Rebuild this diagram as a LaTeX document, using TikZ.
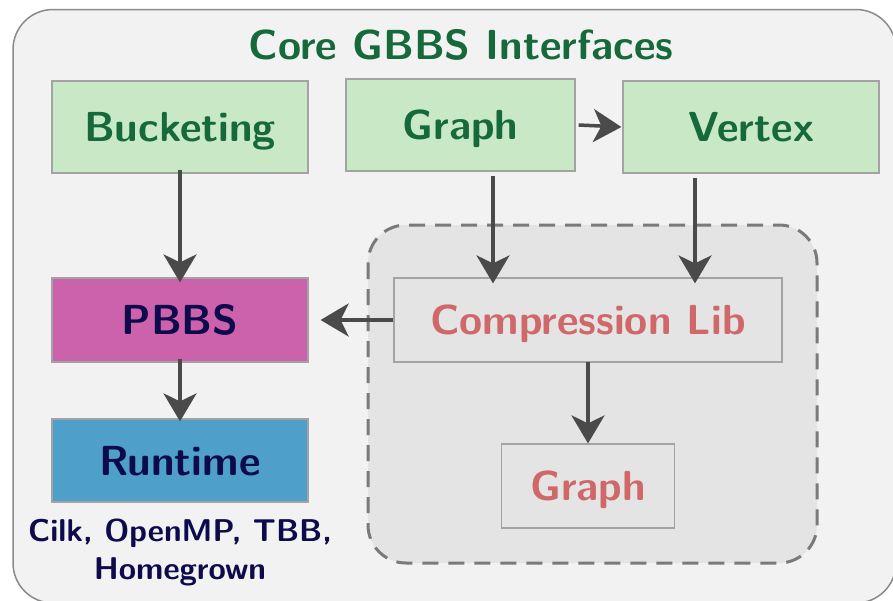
\documentclass[tikz,border=0pt]{standalone}
\usetikzlibrary{arrows.meta}
\definecolor{panelfill}{HTML}{F2F2F2}
\definecolor{panelline}{HTML}{8A8A8A}
\definecolor{zonefill}{HTML}{E4E4E4}
\definecolor{zoneline}{HTML}{7A7A7A}
\definecolor{boxline}{HTML}{A3A3A3}
\definecolor{ifacefill}{HTML}{C9E8C5}
\definecolor{ifacetext}{HTML}{15693A}
\definecolor{pbbsfill}{HTML}{CD62AC}
\definecolor{rtfill}{HTML}{4EA0CB}
\definecolor{navytext}{HTML}{0E0B4C}
\definecolor{comptext}{HTML}{D0686A}
\definecolor{arrowgray}{HTML}{4A4A4A}
\tikzset{
  boxfont/.style={font=\fontsize{42}{50}\selectfont\sffamily\bfseries},
  block/.style={boxfont, draw=boxline, line width=1.2pt, inner sep=0pt,
    text height=29pt, text depth=0pt, align=center},
  iface/.style={block, fill=ifacefill, text=ifacetext},
  compbox/.style={block, fill=zonefill, text=comptext},
  flow/.style={draw=arrowgray, line width=3.5pt,
    -{Stealth[length=28pt, width=33pt, inset=8pt]}},
}
\begin{document}
\begin{tikzpicture}[x=1pt, y=-1pt]
  \useasboundingbox (0,0) rectangle (893,600);
  % outer panel
  \draw[fill=panelfill, draw=panelline, line width=1.5pt, rounded corners=40pt]
    (13,9.5) rectangle (896,603);
  \node[anchor=base, font=\fontsize{42}{50}\selectfont\sffamily\bfseries, text=ifacetext]
    (title) at (461,59) {Core GBBS Interfaces};
  % compression region
  \draw[fill=zonefill, draw=zoneline, line width=3pt, dash pattern=on 16pt off 10pt,
    rounded corners=38pt] (368,225) rectangle (817,563);
  % interface boxes
  \node[iface, minimum width=256pt, minimum height=92pt] (bucket) at (180,127) {Bucketing};
  \node[iface, minimum width=229pt, minimum height=92pt] (graph) at (460.5,125) {Graph};
  \node[iface, minimum width=256pt, minimum height=92pt] (vertex) at (751,127) {Vertex};
  \node[block, fill=pbbsfill, text=navytext, minimum width=256pt, minimum height=84pt]
    (pbbs) at (180,320) {PBBS};
  \node[block, fill=rtfill, text=navytext, minimum width=256pt, minimum height=83pt]
    (runtime) at (180,460.5) {Runtime};
  \node[anchor=north, font=\fontsize{31.5}{38}\selectfont\sffamily\bfseries, text=navytext,
    align=center, inner sep=0pt] (rtnote) at (180,519) {Cilk, OpenMP, TBB,\\Homegrown};
  \node[compbox, minimum width=388pt, minimum height=84pt] (comp) at (588,320) {Compression Lib};
  \node[compbox, minimum width=173pt, minimum height=84pt] (cgraph) at (588,486) {Graph};
  % arrows
  \coordinate (xg) at (493,0);
  \coordinate (xv) at (695,0);
  \draw[flow] ([yshift=4pt]bucket.south) -- ([yshift=-5pt]pbbs.north);
  \draw[flow] ([yshift=4pt]pbbs.south) -- ([yshift=-3pt]runtime.north);
  \draw[flow] ([xshift=3pt]graph.east) -- ([xshift=-1pt]vertex.west);
  \draw[flow] (graph.south -| xg) ++(0,4) -- ([yshift=-6pt]comp.north -| xg);
  \draw[flow] (vertex.south -| xv) ++(0,4) -- ([yshift=-6pt]comp.north -| xv);
  \draw[flow] (comp.west) -- ([xshift=12pt]pbbs.east);
  \draw[flow] ([yshift=1pt]comp.south) -- (cgraph.north);
\end{tikzpicture}
\end{document}
